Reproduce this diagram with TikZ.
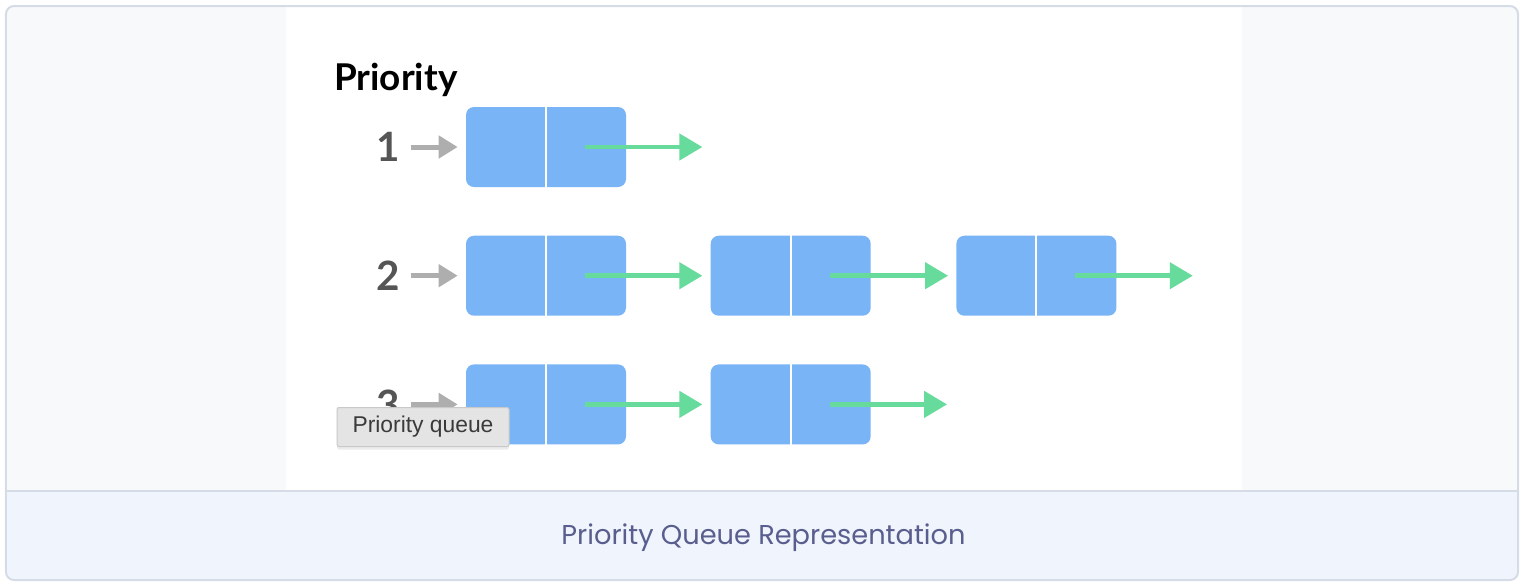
\documentclass[tikz,border=0pt]{standalone}
\usepackage{fontspec}
\setmainfont{Lato}[Ligatures=NoCommon]
\newfontfamily\tipfont{Liberation Sans}
\newfontfamily\capfont{Poppins}
\usetikzlibrary{positioning, arrows.meta, shadows}

\definecolor{boxblue}{HTML}{79B4F6}
\definecolor{linkgreen}{HTML}{67DB9C}
\definecolor{entrygray}{HTML}{AEAEAE}
\definecolor{prionum}{HTML}{555555}
\definecolor{framecol}{HTML}{D5DCE6}
\definecolor{panelgray}{HTML}{F8F9FB}
\definecolor{capband}{HTML}{F0F4FC}
\definecolor{captext}{HTML}{5A5E8E}
\definecolor{tipfill}{HTML}{E4E4E4}
\definecolor{tipdraw}{HTML}{C9C9C9}
\definecolor{tiptext}{HTML}{3A3A3A}

\begin{document}
\begin{tikzpicture}[
    cell/.style={rectangle, rounded corners=0.16cm, fill=boxblue, minimum width=3.2cm, minimum height=1.6cm, inner sep=0pt},
    divider/.style={draw=white, line width=0.04cm},
    link/.style={draw=linkgreen, line width=0.09cm, -{Triangle[length=0.46cm, width=0.52cm]}, shorten >=0.16cm},
    entry/.style={draw=entrygray, line width=0.1cm, -{Triangle[length=0.38cm, width=0.44cm]}, shorten >=0.16cm, shorten <=0.2cm},
    prio/.style={font=\bfseries\fontsize{23}{23}\selectfont, text=prionum, inner sep=0pt},
    tooltip/.style={rectangle, rounded corners=0.04cm, fill=tipfill, draw=tipdraw, line width=0.02cm, minimum width=3.44cm, minimum height=0.78cm, text=tiptext, font=\tipfont\fontsize{13}{13}\selectfont, drop shadow={opacity=0.15, shadow xshift=0cm, shadow yshift=-0.06cm}},
]
\useasboundingbox (0,0) rectangle (30.48,-11.68);

% Card background
\fill[capband, rounded corners=0.16cm] (0.12,-0.12) rectangle (30.36,-11.6);
\fill[panelgray] (0.12,-9.82) [rounded corners=0.16cm] -- (0.12,-0.12) -- (30.36,-0.12) [sharp corners] -- (30.36,-9.82) -- cycle;
\fill[white] (5.72,-0.14) rectangle (24.84,-9.82);
\draw[framecol, line width=0.04cm] (0.12,-9.82) -- (30.36,-9.82);
\draw[framecol, line width=0.04cm, rounded corners=0.16cm] (0.12,-0.12) rectangle (30.36,-11.6);

% Title
\node (title) [anchor=base west, font=\bfseries\fontsize{21}{21}\selectfont] at (6.56,-1.8) {Priority};

% Queue cells
\node (p1a) [cell] at (10.92,-2.94) {};
\node (p2a) [cell, below=0.96cm of p1a] {};
\node (p2b) [cell, right=1.68cm of p2a] {};
\node (p2c) [cell, right=1.7cm of p2b] {};
\node (p3a) [cell, below=0.96cm of p2a] {};
\node (p3b) [cell, right=1.68cm of p3a] {};

% Priority numbers
\node (n1) [prio, left=1.3cm of p1a] {1};
\node (n2) [prio, left=1.3cm of p2a] {2};
\node (n3) [prio, left=1.3cm of p3a] {3};

% Free ends of the last links
\coordinate [right=1.68cm of p1a.east] (end1);
\coordinate [right=1.68cm of p2c.east] (end2);
\coordinate [right=1.68cm of p3b.east] (end3);

% Cell dividers
\draw[divider] (p1a.north) -- (p1a.south);
\draw[divider] (p2a.north) -- (p2a.south);
\draw[divider] (p2b.north) -- (p2b.south);
\draw[divider] (p2c.north) -- (p2c.south);
\draw[divider] (p3a.north) -- (p3a.south);
\draw[divider] (p3b.north) -- (p3b.south);

% Entry arrows
\draw[entry] (n1) -- (p1a);
\draw[entry] (n2) -- (p2a);
\draw[entry] (n3) -- (p3a);

% Links
\draw[link] ([xshift=0.78cm]p1a.center) -- (end1);
\draw[link] ([xshift=0.78cm]p2a.center) -- (p2b.west);
\draw[link] ([xshift=0.78cm]p2b.center) -- (p2c.west);
\draw[link] ([xshift=0.78cm]p2c.center) -- (end2);
\draw[link] ([xshift=0.78cm]p3a.center) -- (p3b.west);
\draw[link] ([xshift=0.78cm]p3b.center) -- (end3);

% Tooltip and caption
\node (tip) [tooltip] at (8.46,-8.54) {Priority queue};
\node (caption) [text=captext, font=\capfont\fontsize{15.5}{15.5}\selectfont] at (15.27,-10.76) {Priority Queue Representation};
\end{tikzpicture}
\end{document}
